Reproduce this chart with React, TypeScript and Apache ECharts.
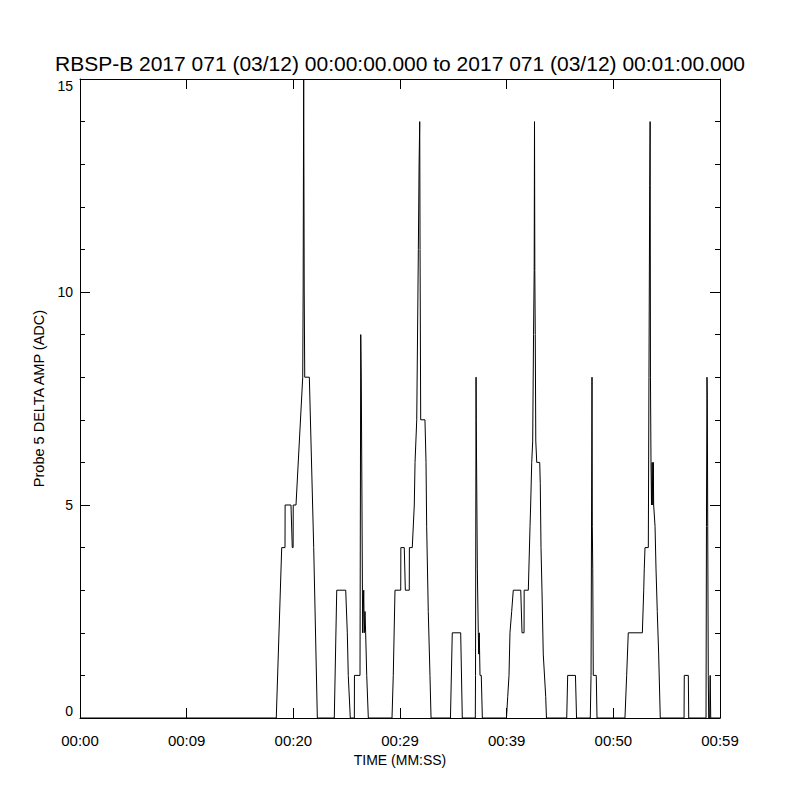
import React, { useEffect, useRef } from "react";
import * as echarts from "echarts";

const titleText =
  "RBSP-B 2017 071 (03/12) 00:00:00.000 to 2017 071 (03/12) 00:01:00.000";
const xAxisTitle = "TIME (MM:SS)";
const yAxisTitle = "Probe 5 DELTA AMP (ADC)";
const xTickLabels = ["00:00", "00:09", "00:20", "00:29", "00:39", "00:50", "00:59"];

// time in seconds from 00:00:00, value in ADC counts
const pulseATimes = [18.40, 18.91, 19.22, 19.23, 19.78, 19.90, 19.98, 19.99, 20.25, 20.88, 20.92, 20.97, 21.02, 21.07, 21.50, 21.91, 22.25];
const pulseAValues = [0, 4, 4, 5, 5, 4, 4, 5, 5, 8, 10, 15, 10, 8, 8, 4, 0];

const pulseBTimes = [23.84, 24.07, 24.91, 25.06, 25.15, 25.34];
const pulseBValues = [0, 3, 3, 2, 1, 0];

const spikeBTimes = [25.72, 25.73, 26.25, 26.32, 26.37, 26.50, 26.56, 26.60, 26.65, 26.72, 26.78, 26.88, 27.03];
const spikeBValues = [0, 1, 1, 9, 8, 2, 2, 3, 2, 2.5, 2, 1, 0];

const pulseCTimes = [29.25, 29.37, 29.53, 30.07, 30.08, 30.40, 30.50, 30.87, 30.88, 31.15, 31.34, 31.41, 31.57, 31.72, 31.79, 31.85, 31.88, 31.94, 32.34, 32.44, 32.50, 32.65, 32.81, 32.91];
const pulseCValues = [0, 1, 3, 3, 4, 4, 3, 3, 4, 4, 5, 6, 7, 11, 13, 14, 11, 7, 7, 6, 4.5, 2.5, 1, 0];

const smallCTimes = [34.73, 34.90, 35.69, 35.84];
const smallCValues = [0, 2, 2, 0];

const spikeDTimes = [37.06, 37.08, 37.13, 37.15, 37.25, 37.34, 37.38, 37.43, 37.50, 37.62, 37.72];
const spikeDValues = [0, 1, 8, 7, 3.5, 2, 1.5, 2, 1, 1, 0];

const pulseETimes = [39.98, 40.10, 40.22, 40.31, 40.47, 40.62, 41.32, 41.44, 41.63, 41.64, 42.03, 42.19, 42.25, 42.35, 42.44, 42.52, 42.58, 42.61, 42.64, 42.68, 42.73, 42.82, 43.10, 43.15, 43.22, 43.31, 43.43, 43.66, 43.73];
const pulseEValues = [0, 0.5, 1, 2, 2.5, 3, 3, 2, 2, 3, 3, 4.5, 5, 6, 6.5, 9, 10.5, 14, 10.5, 9, 6.5, 6, 6, 5.5, 4, 3, 1.5, 0.5, 0];

const smallETimes = [45.63, 45.72, 46.45, 46.55];
const smallEValues = [0, 1, 1, 0];

const spikeFTimes = [47.84, 47.91, 48.00, 48.03, 48.07, 48.12, 48.40, 48.47];
const spikeFValues = [0, 1, 8, 4.5, 3.5, 1, 1, 0];

const pulseGTimes = [51.09, 51.25, 51.40, 52.72, 52.85, 52.90, 52.97, 53.28, 53.34, 53.41, 53.45, 53.48, 53.53, 53.58, 53.64, 53.70, 53.75, 53.78, 53.91, 54.00, 54.12, 54.25, 54.40];
const pulseGValues = [0, 1, 2, 2, 3, 3.5, 4, 4, 8, 12.5, 14, 8, 6, 5, 6, 5, 6, 5, 4.5, 3.5, 2.5, 1.5, 0];

const smallGTimes = [56.63, 56.65, 57.03, 57.07];
const smallGValues = [0, 1, 1, 0];

const spikeHTimes = [58.69, 58.73, 58.78, 58.81, 58.85, 58.90, 58.94, 59.03, 59.08, 59.13];
const spikeHValues = [0, 4.5, 8, 7.5, 4.5, 1, 0, 0, 1, 0];

const startTime = 0;
const endTime = 60;

const pulses: [number[], number[]][] = [
  [pulseATimes, pulseAValues],
  [pulseBTimes, pulseBValues],
  [spikeBTimes, spikeBValues],
  [pulseCTimes, pulseCValues],
  [smallCTimes, smallCValues],
  [spikeDTimes, spikeDValues],
  [pulseETimes, pulseEValues],
  [smallETimes, smallEValues],
  [spikeFTimes, spikeFValues],
  [pulseGTimes, pulseGValues],
  [smallGTimes, smallGValues],
  [spikeHTimes, spikeHValues],
];

const FONT = "'Liberation Sans', Arial, sans-serif";

export default function App() {
  const ref = useRef<HTMLDivElement>(null);

  useEffect(() => {
    if (!ref.current) return;
    const chart = echarts.init(ref.current, null, { renderer: "svg" });

    const data: [number, number][] = [[startTime, 0]];
    pulses.forEach(([ts, vs]) => {
      ts.forEach((t, i) => data.push([t, vs[i]]));
    });
    data.push([endTime, 0]);

    const axisLine = { show: true, onZero: false, lineStyle: { color: "#000", width: 1 } };
    const tickStyle = { color: "#000", width: 1 };

    chart.setOption({
      animation: false,
      backgroundColor: "#fff",
      title: {
        text: titleText,
        left: "center",
        top: 48,
        textStyle: {
          fontFamily: FONT,
          fontSize: 21,
          fontWeight: "normal",
          color: "#000",
        },
      },
      grid: { left: 80, right: 80, top: 79, bottom: 82, containLabel: false },
      xAxis: [
        {
          type: "value",
          min: 0,
          max: 60,
          interval: 10,
          position: "bottom",
          axisLine,
          axisTick: { show: true, inside: true, length: 10, lineStyle: tickStyle },
          axisLabel: {
            formatter: (v: number) => xTickLabels[Math.round(v / 10)] ?? "",
            margin: 15,
            color: "#000",
            fontSize: 15,
            fontFamily: FONT,
          },
          splitLine: { show: false },
          name: xAxisTitle,
          nameLocation: "middle",
          nameGap: 32,
          nameTextStyle: { color: "#000", fontSize: 14, fontFamily: FONT },
        },
        {
          type: "value",
          min: 0,
          max: 60,
          interval: 10,
          position: "top",
          axisLine,
          axisTick: { show: true, inside: true, length: 10, lineStyle: tickStyle },
          axisLabel: { show: false },
          splitLine: { show: false },
        },
      ],
      yAxis: [
        {
          type: "value",
          min: 0,
          max: 15,
          interval: 5,
          position: "left",
          axisLine,
          axisTick: { show: true, inside: true, length: 10, lineStyle: tickStyle },
          minorTick: { show: true, splitNumber: 5, length: 5, lineStyle: tickStyle },
          axisLabel: {
            margin: 7,
            color: "#000",
            fontSize: 14,
            fontFamily: FONT,
            verticalAlignMaxLabel: "top",
            verticalAlignMinLabel: "bottom",
          },
          splitLine: { show: false },
          minorSplitLine: { show: false },
          name: yAxisTitle,
          nameLocation: "middle",
          nameGap: 28,
          nameRotate: 90,
          nameTextStyle: { color: "#000", fontSize: 14.5, fontFamily: FONT },
        },
        {
          type: "value",
          min: 0,
          max: 15,
          interval: 5,
          position: "right",
          axisLine,
          axisTick: { show: true, inside: true, length: 10, lineStyle: tickStyle },
          minorTick: { show: true, splitNumber: 5, length: 5, lineStyle: tickStyle },
          axisLabel: { show: false },
          splitLine: { show: false },
          minorSplitLine: { show: false },
        },
      ],
      series: [
        {
          type: "line",
          xAxisIndex: 0,
          yAxisIndex: 0,
          data,
          showSymbol: false,
          symbol: "none",
          lineStyle: { color: "#000", width: 1 },
          silent: true,
          clip: true,
        },
      ],
    });

    return () => chart.dispose();
  }, []);

  return (
    <div
      ref={ref}
      style={{
        position: "fixed",
        left: 0,
        top: 0,
        width: 800,
        height: 800,
        background: "#fff",
      }}
    />
  );
}
